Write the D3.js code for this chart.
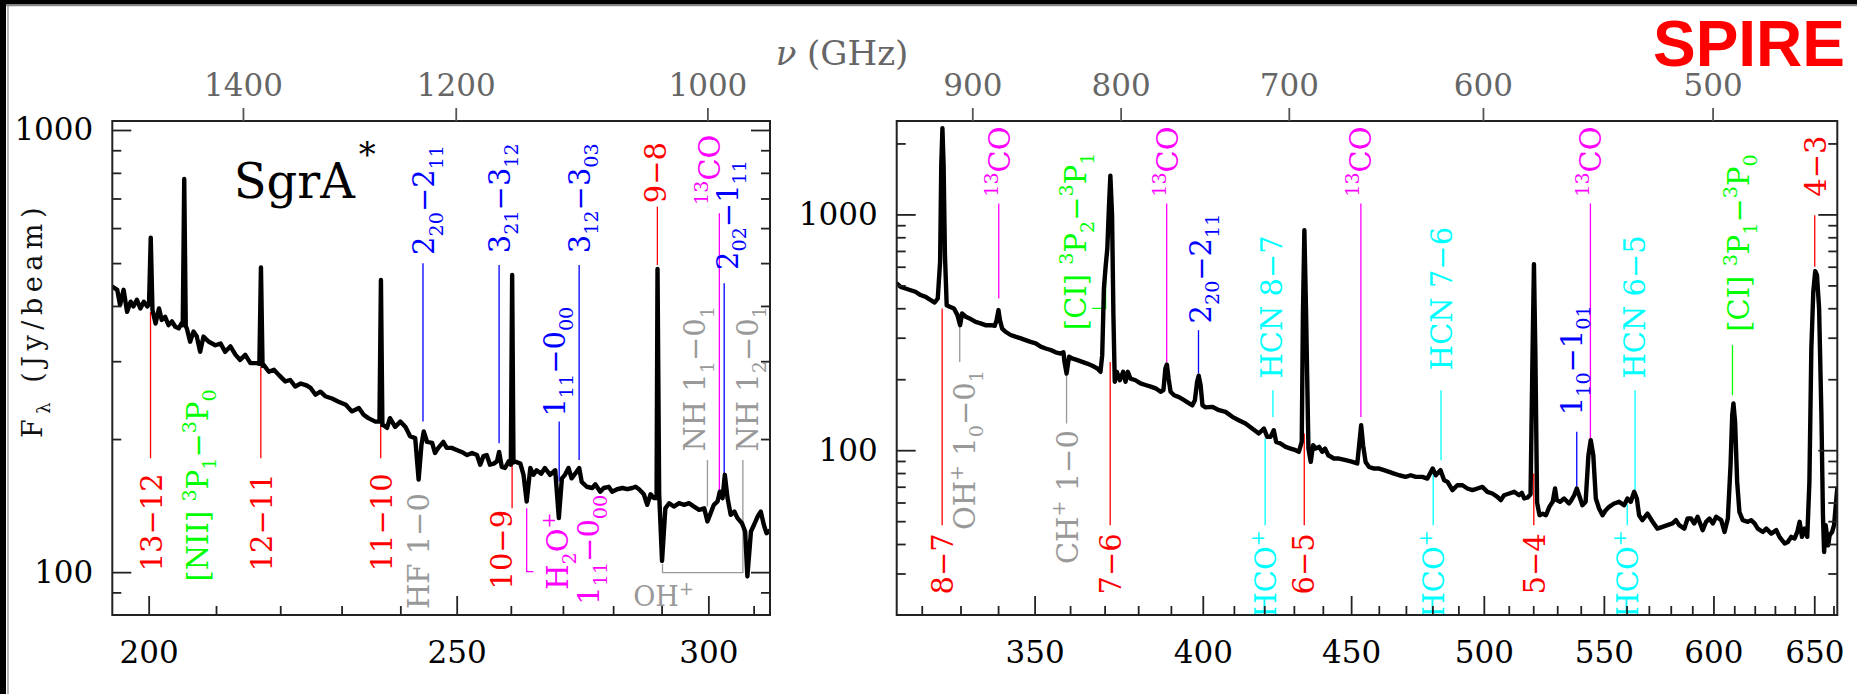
<!DOCTYPE html>
<html>
<head>
<meta charset="utf-8">
<script src="https://cdn.jsdelivr.net/npm/d3@7"></script>
<style>
  html, body { margin: 0; padding: 0; background: #fff; }
  svg { display: block; }
</style>
</head>
<body>
<svg id="chart" width="1857" height="694"></svg>
<script>
// ---------------------------------------------------------------
// Herschel/SPIRE FTS spectrum towards SgrA* (central beam)
// SSW (short-wavelength array) and SLW (long-wavelength array)
// wavelength in micron, flux density in Jy/beam
// ---------------------------------------------------------------
const C_UM_GHZ = 299792.458;   // nu[GHz] = C / lambda[um]

const sswSpectrum = [
  [194.85,442],[195.5,435],[195.9,402],[196.4,435],[196.9,388],[197.4,409],[197.8,399],[198.3,413],
  [198.8,395],[199.3,409],[199.8,399],[200.05,404],[200.3,571],[200.55,392],[201.0,365],[201.5,395],
  [201.9,372],[202.4,378],[202.9,362],[203.4,369],[203.9,359],[204.4,356],[204.8,365],[205.0,362],
  [205.22,775],[205.45,360],[205.6,356],[206.1,332],[206.6,350],[207.1,341],[207.6,315],[208.1,341],
  [208.9,332],[209.9,326],[210.7,329],[211.4,315],[212.2,324],[213.0,310],[213.7,302],[214.5,310],
  [215.3,297],[216.3,297],[216.7,296],[216.95,489],[217.2,293],[217.4,294],[218.2,284],[219.0,287],
  [219.8,279],[220.8,270],[221.6,272],[222.4,263],[223.3,267],[224.1,265],[224.9,261],[225.7,252],
  [226.5,256],[227.3,250],[228.4,247],[229.5,243],[230.7,239],[231.7,231],[232.9,235],[233.7,227],
  [234.5,223],[235.7,219],[236.4,219],[236.65,458],[236.9,215],[237.1,215],[237.7,212],[238.2,223],
  [239.1,213],[240.0,219],[240.9,213],[241.7,203],[242.6,201],[243.2,162],[243.7,194],[244.1,208],
  [244.7,197],[245.6,196],[246.1,186],[246.7,191],[247.6,197],[248.2,191],[249.1,191],[250.0,189],
  [250.9,187],[251.9,184],[252.8,186],[253.7,184],[254.3,175],[254.9,183],[255.5,184],[256.1,175],
  [256.8,176],[257.4,178],[257.8,187],[258.3,173],[258.9,172],[259.6,178],[260.0,175],[260.25,470],
  [260.5,177],[260.8,178],[261.8,176],[262.4,166],[263.0,144.5],[263.7,172],[264.3,166],[264.9,170],
  [265.8,167],[266.5,172],[267.5,166],[268.5,170],[269.2,132.5],[269.8,163],[270.4,166],[271.1,172],
  [271.7,163],[272.4,167],[273.2,172],[273.7,160],[274.7,156],[275.8,155],[276.4,158],[277.4,152],
  [278.1,155],[279.1,156],[279.8,152],[280.8,154],[281.9,155],[282.9,154],[283.9,155],[284.6,156],
  [285.3,154],[286.3,150],[287.0,142],[287.7,150],[288.4,147],[288.95,147],[289.15,485],[289.5,150],
  [290.1,106],[290.8,139.5],[291.6,143.2],[292.6,140.7],[293.7,143.2],[294.8,142],[295.8,143.2],
  [296.9,140.7],[298.0,138.3],[299.1,139.5],[299.8,130.2],[300.5,136],[301.2,142],[302.0,144.5],
  [302.5,152],[303.1,147],[303.6,166],[304.2,147],[304.9,134.8],[305.7,137.1],[306.4,132.5],
  [307.4,129],[308.1,123.6],[308.6,97.8],[309.4,123.6],[310.1,128],[310.9,133.6],[311.6,137.1],
  [312.3,128],[312.9,122.5],[313.6,124]
];

const slwSpectrum = [
  [313.7,509],[314.7,493],[315.9,485],[317.2,477],[318.4,470],[319.7,455],[321.0,447],[322.3,433],
  [323.3,423],[324.1,440],[324.7,630],[325.0,1619],[325.3,2320],[325.6,1619],[325.95,672],[326.4,412],
  [327.2,406],[328.3,399],[329.2,374],[329.9,339],[330.4,380],[331.4,368],[332.7,360],[334.0,350],
  [335.3,345],[336.6,339],[338.0,339],[339.1,337],[339.6,356],[340.1,393],[340.5,356],[341.1,328],
  [342.0,318],[343.4,308],[344.7,303],[346.2,298],[347.5,293],[348.9,288],[350.3,284],[351.7,275],
  [353.1,270],[354.5,266],[355.9,260],[357.3,257],[358.1,260],[358.4,237],[359.0,211.5],[359.7,249],
  [360.6,245],[362.1,241],[363.5,237],[364.9,233],[366.4,228],[367.9,222],[368.8,215],[369.3,253],
  [369.8,485],[370.3,600],[370.8,717],[371.3,1095],[371.7,1460],[372.2,993],[372.6,374],[373.0,195],
  [373.6,215],[374.5,198],[375.5,215],[376.2,195],[376.9,215],[377.7,201],[379.2,198],[380.7,192],
  [382.2,189],[383.8,186],[385.3,183],[386.8,177],[387.7,180],[388.3,222],[388.75,231],[389.3,201],
  [389.9,177],[391.0,171],[392.5,168],[394.1,163],[395.7,158],[396.7,155],[397.5,163],[398.2,195],
  [398.7,207],[399.3,189],[399.9,155],[400.9,152],[403.0,152.7],[405.2,147.8],[407.3,145.4],
  [409.5,138.5],[411.6,134],[413.8,129.7],[416.0,123.6],[418.2,117.7],[419.9,123.6],[421.0,113.9],
  [422.1,113.9],[423.2,121.6],[424.0,108.5],[425.5,106.7],[427.2,103.3],[428.9,101.6],[430.6,100],
  [431.7,98.4],[432.7,108.5],[433.1,374],[433.6,858],[434.2,374],[435.0,101.6],[435.8,89.2],
  [436.6,105],[437.5,101.6],[438.7,103.3],[439.8,98.4],[440.8,101.6],[441.9,95.2],[443.9,92.2],
  [445.7,92.2],[448.1,90.7],[450.5,89.2],[452.2,87.8],[453.0,108.5],[453.6,127.7],[454.3,105],
  [455.2,89.2],[456.4,85],[458.3,83.6],[460.1,83.6],[461.9,82.3],[463.8,80.9],[465.6,79.6],
  [467.5,78.3],[469.9,77.1],[471.8,78.3],[473.7,77.1],[476.2,77.1],[478.1,75.8],[480.1,83.6],
  [481.3,78.3],[483.1,82.3],[484.5,74.6],[485.8,73.4],[487.7,67.7],[489.6,71],[491.6,71],
  [493.5,68.8],[495.5,67.7],[497.5,68.8],[499.4,69.9],[501.4,66.6],[503.4,65.5],[505.4,63.4],
  [506.8,61.4],[508.1,64.4],[510.2,65.5],[512.2,66.6],[514.2,64.4],[515.3,66],[516.3,62.4],
  [517.7,63],[518.9,65],[519.7,250],[520.3,615],[520.9,250],[521.6,60],[522.6,53],[523.9,53.8],
  [525.3,53],[526.7,57.5],[528.1,60.4],[529.1,68.8],[529.8,61.4],[531.2,60.4],[532.9,62.4],
  [535.0,59.4],[536.0,61.4],[537.2,64.4],[538.3,68.8],[539.3,64.4],[540.7,58.4],[542.1,60.4],
  [543.3,95.2],[544.3,110.3],[545.4,95.2],[546.5,62.4],[547.9,56.6],[549.4,53],[550.8,55.6],
  [552.3,57.5],[554.5,59.4],[556.7,60.4],[558.9,58.4],[560.4,62.4],[561.9,60.4],[563.4,66.6],
  [564.6,62.4],[565.6,53],[567.1,50.5],[569.4,53.8],[571.7,49.7],[573.9,46.5],[576.2,47.3],
  [578.5,48.1],[580.8,48.9],[582.4,50.5],[583.9,48.1],[586.3,46.5],[587.8,51.3],[589.4,51.3],
  [590.9,48.9],[592.5,52.2],[594.9,45.8],[596.5,49.7],[598.1,51.3],[599.7,48.9],[601.3,52.2],
  [603.7,50.5],[605.3,45],[606.9,51.3],[608.2,86.4],[609.0,140.7],[609.6,158],[610.4,131.9],
  [611.4,73.4],[612.5,54.7],[614.1,50.5],[616.6,49.7],[618.2,50.5],[619.9,48.9],[621.5,46.5],
  [624.0,45],[625.7,46.5],[628.2,44.3],[630.7,45.8],[632.3,42.9],[634.9,40.2],[636.5,40.8],
  [638.2,42.9],[639.9,42.2],[641.3,45],[642.5,49.7],[643.7,42.9],[645.0,46.5],[646.4,42.9],
  [647.5,73.4],[648.5,270],[649.5,470],[650.5,575],[651.4,553],[652.5,399],[653.7,140.7],
  [654.5,53],[655.1,37],[655.9,48.1],[657.2,39.5],[658.0,43.6],[659.3,45],[660.3,48.1],
  [661.2,58.4],[662.0,68.8]
];

// identified lines: [rest wavelength (um), label, species]
const sswLines = [
  [200.27, "13−12", "co"],
  [205.18, "[NII] ^{3}P_{1}−^{3}P_{0}", "atom"],
  [216.93, "12−11", "co"],
  [236.61, "11−10", "co"],
  [243.24, "HF 1−0", "ion"],
  [243.97, "2_{20}−2_{11}", "h2o"],
  [257.80, "3_{21}−3_{12}", "h2o"],
  [260.24, "10−9", "co"],
  [263.00, "H_{2}O^{+}", "h2op"],
  [263.00, "1_{11}−0_{00}", "h2op"],
  [269.27, "1_{11}−0_{00}", "h2o"],
  [273.19, "3_{12}−3_{03}", "h2o"],
  [289.12, "9−8", "co"],
  [299.80, "NH 1_{1}−0_{1}", "ion"],
  [302.40, "^{13}CO", "c13o"],
  [303.46, "2_{02}−1_{11}", "h2o"],
  [307.60, "NH 1_{2}−0_{1}", "ion"]
];
const slwLines = [
  [325.23, "8−7", "co"],
  [329.80, "OH^{+} 1_{0}−0_{1}", "ion"],
  [340.18, "^{13}CO", "c13o"],
  [358.99, "CH^{+} 1−0", "ion"],
  [370.30, "[CI] ^{3}P_{2}−^{3}P_{1}", "atom"],
  [371.65, "7−6", "co"],
  [388.70, "^{13}CO", "c13o"],
  [398.64, "2_{20}−2_{11}", "h2o"],
  [420.30, "HCO^{+}", "dense"],
  [422.90, "HCN 8−7", "dense"],
  [433.56, "6−5", "co"],
  [453.50, "^{13}CO", "c13o"],
  [480.30, "HCO^{+}", "dense"],
  [483.30, "HCN 7−6", "dense"],
  [520.23, "5−4", "co"],
  [538.29, "1_{10}−1_{01}", "h2o"],
  [544.16, "^{13}CO", "c13o"],
  [560.30, "HCO^{+}", "dense"],
  [563.80, "HCN 6−5", "dense"],
  [609.14, "[CI] ^{3}P_{1}−^{3}P_{0}", "atom"],
  [650.25, "4−3", "co"]
];

// label placement: [leader from flux, leader to flux, text flux, anchor, baseline offset px]
const sswLabelLayout = [
  [388, 181, 167.4, "end", 11],
  [null, null, 95.2, "start", 24],
  [291.6, 181, 167.4, "end", 11],
  [215.3, 181, 167.4, "end", 11],
  [null, null, 150.9, "end", 10],
  [219, 499.5, 521.8, "start", 11.5],
  [195.7, 495, 526.4, "start", 11],
  [185.8, 139.5, 138.3, "end", 0],
  [null, null, 91.2, "start", 41],
  [null, null, 84.4, "start", 72],
  [160.3, 219, 224.8, "start", 6],
  [179.4, 495, 526.4, "start", 11],
  [495, 670.8, 682.8, "start", 9],
  [140.7, 179.4, 187.4, "start", -2],
  [152.1, 648.1, 676.8, "start", 1],
  [167.4, 450, 482.5, "start", 14],
  [125.7, 179.4, 187.4, "start", 15]
];
const slwLabelLayout = [
  [399.3, 48.1, 44.4, "end", 11],
  [350.2, 236.8, 218.5, "end", 15],
  [440, 1113, 1188, "start", 11],
  [208, 129.8, 121.6, "end", 11],
  [null, null, 322.9, "start", -20],
  [236.8, 48.1, 44.4, "end", 11],
  [236.8, 1113, 1188, "start", 11],
  [211.5, 322.9, 344.7, "start", 12.5],
  [112.1, 48.1, 45.8, "end", 11],
  [138.4, 179.7, 201.4, "start", 9],
  [117.7, 48.1, 44.4, "end", 10],
  [138.4, 1113, 1188, "start", 10],
  [79.6, 48.1, 45.8, "end", 11],
  [90.7, 179.7, 218.5, "start", 11],
  [79.6, 48.1, 44.4, "end", 11],
  [69.9, 119.6, 140.7, "start", 5],
  [112.1, 1113, 1188, "start", 11],
  [59.4, 48.1, 45.8, "end", 11],
  [67.7, 179.7, 201.4, "start", 10],
  [171.2, 279, 317.6, "start", 16.5],
  [599.4, 993, 1188, "start", 11]
];

// bracket-shaped leaders, vertices as [wavelength, flux]
const sswBrackets = [
  ["h2op", [[263.0,139.5],[263.0,100.3],[264.3,100.3]]],
  ["ion",  [[290.2,104.4],[290.2,99.8],[307.6,99.8],[307.6,125.7]]]
];
const slwBrackets = [
  ["atom", [[370.3,599.4],[370.3,399.3],[366.4,399.3]]]
];

// axis ticks
const sswWaveMajor = [200, 250, 300];
const sswWaveMinor = [210, 220, 230, 240, 260, 270, 280, 290, 310];
const sswFreqTicks = [1400, 1200, 1000];
const sswFluxMajor = [100, 1000];
const sswFluxMinor = [90, 200, 300, 400, 500, 600, 700, 800, 900];

const slwWaveMajor = [350, 400, 450, 500, 550, 600, 650];
const slwWaveMinor = d3.range(320, 661, 10).filter(v => v % 50 !== 0);
const slwFreqTicks = [900, 800, 700, 600, 500];
const slwFluxMajor = [100, 1000];
const slwFluxMinor = [30, 40, 50, 60, 70, 80, 90, 200, 300, 400, 500, 600, 700, 800, 900, 2000];

// ---------------------------------------------------------------
const SERIF = "'DejaVu Serif', serif";
const TOP = 121, BOTTOM = 615;
const LABEL_FS = 29;
const TICK_FS = 31;
const AXIS_COLOR = "#222";

const SPECIES_COLOR = {
  co: "#ff0000", c13o: "#ff00ff", h2o: "#0000ff", h2op: "#ff00ff",
  ion: "#999999", atom: "#00ff00", dense: "#00ffff"
};

const svg = d3.select("#chart");

// outer frame
svg.append("rect").attr("x", 0).attr("y", 0).attr("width", 1857).attr("height", 4.5).attr("fill", "#000");
svg.append("rect").attr("x", 0).attr("y", 0).attr("width", 6).attr("height", 694).attr("fill", "#000");
svg.append("line").attr("x1", 8).attr("x2", 8).attr("y1", 5).attr("y2", 694).attr("stroke", "#888").attr("stroke-width", 1.2);
svg.append("line").attr("x1", 6).attr("x2", 1857).attr("y1", 5.6).attr("y2", 5.6).attr("stroke", "#888").attr("stroke-width", 1.2);

// text with ^{sup} and _{sub} markup
function richText(textSel, str, fs) {
  const parts = str.match(/\^\{[^}]*\}|_\{[^}]*\}|[^^_]+/g);
  let shift = 0;
  parts.forEach(p => {
    let kind = "n", t = p;
    if (p.startsWith("^{")) { kind = "sup"; t = p.slice(2, -1); }
    else if (p.startsWith("_{")) { kind = "sub"; t = p.slice(2, -1); }
    const target = kind === "sup" ? -0.42 * fs : kind === "sub" ? 0.28 * fs : 0;
    textSel.append("tspan")
      .attr("dy", (target - shift).toFixed(2))
      .attr("font-size", kind === "n" ? fs : 0.66 * fs)
      .text(t);
    shift = target;
  });
}

function drawPanel(p) {
  const x = d3.scaleLog().domain(p.waveDomain).range([p.left, p.right]);
  const y = d3.scaleLog().domain(p.fluxDomain).range([BOTTOM, TOP]);
  const g = svg.append("g");

  const clipId = "clip-" + p.id;
  svg.append("clipPath").attr("id", clipId).append("rect")
    .attr("x", p.left).attr("y", TOP).attr("width", p.right - p.left).attr("height", BOTTOM - TOP);

  // leader lines
  const leaders = g.append("g").attr("fill", "none").attr("stroke-width", 1.3);
  p.lines.forEach(([lam, , sp], i) => {
    const [f1, f2] = p.layout[i];
    if (f1 == null) return;
    leaders.append("line")
      .attr("x1", x(lam)).attr("x2", x(lam))
      .attr("y1", y(f1)).attr("y2", y(f2))
      .attr("stroke", SPECIES_COLOR[sp]);
  });
  const bracketLine = d3.line().x(d => x(d[0])).y(d => y(d[1]));
  p.brackets.forEach(([sp, pts]) => {
    leaders.append("path").attr("d", bracketLine(pts)).attr("stroke", SPECIES_COLOR[sp]);
  });

  // spectrum
  g.append("path")
    .datum(p.spectrum)
    .attr("clip-path", `url(#${clipId})`)
    .attr("fill", "none")
    .attr("stroke", "#000")
    .attr("stroke-width", 4.4)
    .attr("stroke-linejoin", "round")
    .attr("stroke-linecap", "round")
    .attr("d", d3.line().x(d => x(d[0])).y(d => y(d[1])));

  // line labels
  p.lines.forEach(([lam, txt, sp], i) => {
    const [, , fAt, anchor, dx] = p.layout[i];
    const t = g.append("text")
      .attr("transform", `translate(${(x(lam) + dx).toFixed(2)},${y(fAt).toFixed(2)}) rotate(-90)`)
      .attr("text-anchor", anchor)
      .attr("fill", SPECIES_COLOR[sp])
      .attr("font-family", SERIF)
      .attr("font-size", LABEL_FS)
      .style("white-space", "pre");
    richText(t, txt, LABEL_FS);
  });

  // frame
  g.append("rect")
    .attr("x", p.left).attr("y", TOP)
    .attr("width", p.right - p.left).attr("height", BOTTOM - TOP)
    .attr("fill", "none").attr("stroke", AXIS_COLOR).attr("stroke-width", 2);

  const styleAxis = sel => {
    sel.select(".domain").remove();
    sel.attr("color", AXIS_COLOR).attr("font-family", SERIF).attr("font-size", TICK_FS);
    sel.selectAll(".tick line").attr("stroke-width", 1.8);
  };

  // bottom wavelength axis
  g.append("g").attr("transform", `translate(0,${BOTTOM})`)
    .call(d3.axisBottom(x).tickValues(p.waveMajor).tickSize(-19).tickPadding(26).tickFormat(d3.format("d")))
    .call(styleAxis)
    .call(s => s.selectAll("text").attr("fill", "#000"));
  g.append("g").attr("transform", `translate(0,${BOTTOM})`)
    .call(d3.axisBottom(x).tickValues(p.waveMinor).tickSize(-9).tickFormat(""))
    .call(styleAxis);

  // top frequency axis
  g.append("g").attr("transform", `translate(0,${TOP})`)
    .call(d3.axisTop(x).tickValues(p.freqTicks.map(v => C_UM_GHZ / v)).tickSize(13).tickPadding(12)
      .tickFormat(l => Math.round(C_UM_GHZ / l)))
    .call(styleAxis)
    .call(s => s.selectAll(".tick line").attr("stroke", "#555"))
    .call(s => s.selectAll("text").attr("fill", "#666"));

  // flux axes, left (labelled) and right
  g.append("g").attr("transform", `translate(${p.left},0)`)
    .call(d3.axisLeft(y).tickValues(p.fluxMajor).tickSize(-19).tickPadding(19).tickFormat(d3.format("d")))
    .call(styleAxis)
    .call(s => s.selectAll("text").attr("fill", "#000"));
  g.append("g").attr("transform", `translate(${p.left},0)`)
    .call(d3.axisLeft(y).tickValues(p.fluxMinor).tickSize(-9).tickFormat(""))
    .call(styleAxis);
  g.append("g").attr("transform", `translate(${p.right},0)`)
    .call(d3.axisRight(y).tickValues(p.fluxMajor).tickSize(-19).tickFormat(""))
    .call(styleAxis);
  g.append("g").attr("transform", `translate(${p.right},0)`)
    .call(d3.axisRight(y).tickValues(p.fluxMinor).tickSize(-9).tickFormat(""))
    .call(styleAxis);

  return { x, y, g };
}

const ssw = drawPanel({
  id: "ssw", left: 112.3, right: 770,
  waveDomain: [194.8, 313.7], fluxDomain: [80, 1048],
  spectrum: sswSpectrum, lines: sswLines, layout: sswLabelLayout, brackets: sswBrackets,
  waveMajor: sswWaveMajor, waveMinor: sswWaveMinor, freqTicks: sswFreqTicks,
  fluxMajor: sswFluxMajor, fluxMinor: sswFluxMinor
});

const slw = drawPanel({
  id: "slw", left: 896.7, right: 1837.3,
  waveDomain: [313.7, 662], fluxDomain: [20, 2490],
  spectrum: slwSpectrum, lines: slwLines, layout: slwLabelLayout, brackets: slwBrackets,
  waveMajor: slwWaveMajor, waveMinor: slwWaveMinor, freqTicks: slwFreqTicks,
  fluxMajor: slwFluxMajor, fluxMinor: slwFluxMinor
});

// source name
const src = ssw.g.append("text")
  .attr("x", ssw.x(212.7)).attr("y", ssw.y(700.7))
  .attr("font-family", SERIF).attr("font-size", 48).attr("fill", "#000");
src.append("tspan").text("SgrA");
src.append("tspan").attr("dy", -32).attr("dx", 4).attr("font-size", 34).text("*");

// OH+ absorption pair
const ohp = ssw.g.append("text")
  .attr("x", ssw.x(284.1)).attr("y", ssw.y(83.9))
  .attr("font-family", SERIF).attr("font-size", 27).attr("fill", "#999999");
richText(ohp, "OH^{+}", 27);

// frequency axis title
const nu = svg.append("text")
  .attr("x", 842).attr("y", 65)
  .attr("text-anchor", "middle")
  .attr("font-family", SERIF).attr("font-size", 34).attr("fill", "#666")
  .style("white-space", "pre");
nu.append("tspan").attr("font-style", "italic").text("ν");
nu.append("tspan").text(" (GHz)");

// flux axis title
const yt = svg.append("text")
  .attr("transform", "translate(42,320) rotate(-90)")
  .attr("text-anchor", "middle")
  .attr("font-family", SERIF).attr("font-size", 27).attr("fill", "#111")
  .attr("letter-spacing", 5.5)
  .style("white-space", "pre");
richText(yt, "F_{λ} (Jy/beam)", 27);

// instrument tag
svg.append("text")
  .attr("x", 1845).attr("y", 66)
  .attr("text-anchor", "end")
  .attr("font-family", "'Liberation Sans', Arial, sans-serif")
  .attr("font-weight", "bold").attr("font-size", 64)
  .attr("fill", "#ff0000")
  .text("SPIRE");
</script>
</body>
</html>
